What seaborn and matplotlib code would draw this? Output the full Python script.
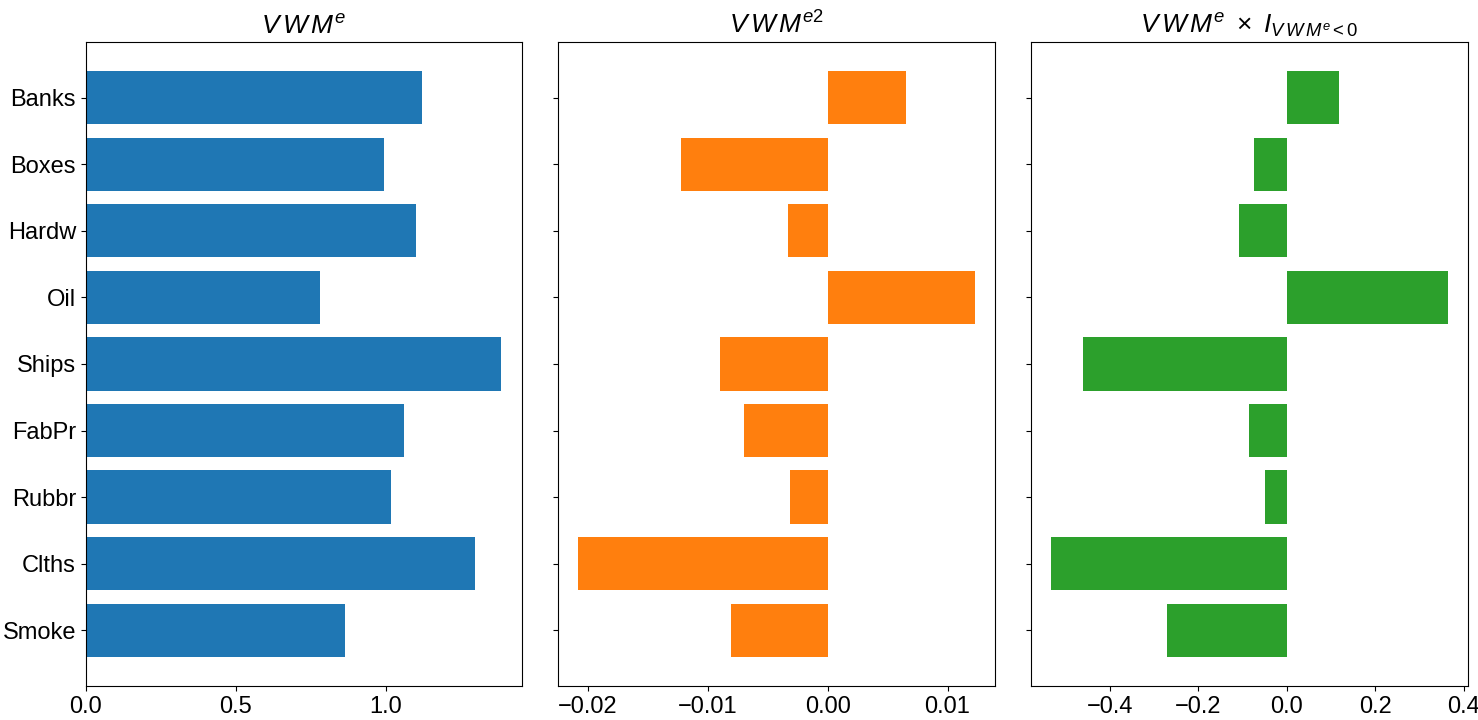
import matplotlib
matplotlib.use("Agg")
import matplotlib.pyplot as plt
from matplotlib.ticker import MultipleLocator
import seaborn as sns
import pandas as pd

# -----------------------------
# data
# -----------------------------
industries = ["Banks", "Boxes", "Hardw", "Oil", "Ships", "FabPr", "Rubbr", "Clths", "Smoke"]
vwm_e = [1.120, 0.993, 1.100, 0.779, 1.385, 1.060, 1.017, 1.298, 0.863]
vwm_e2 = [0.0065, -0.0122, -0.0033, 0.0123, -0.0090, -0.0070, -0.0031, -0.0208, -0.0081]
vwm_e_neg = [0.117, -0.074, -0.108, 0.364, -0.461, -0.086, -0.049, -0.533, -0.270]

titles = [
    r"$V\,W\,M^e$",
    r"$V\,W\,M^{e2}$",
    r"$V\,W\,M^e\ \times\ I_{V\,W\,M^e<0}$",
]
colors = ["#1f77b4", "#ff7f0e", "#2ca02c"]

plt.rcParams["font.family"] = ["Liberation Sans", "DejaVu Sans"]
plt.rcParams["mathtext.fontset"] = "custom"
plt.rcParams["mathtext.rm"] = "Liberation Sans"
plt.rcParams["mathtext.it"] = "Liberation Sans:italic"
plt.rcParams["mathtext.bf"] = "Liberation Sans:bold"

fig, axes = plt.subplots(1, 3, figsize=(14.78, 7.2), dpi=100, sharey=True)
fig.subplots_adjust(left=0.058, right=0.993, bottom=0.047, top=0.942, wspace=0.083)

series = [vwm_e, vwm_e2, vwm_e_neg]
n = len(industries)

for ax, vals, title, col in zip(axes, series, titles, colors):
    df = pd.DataFrame({"industry": industries, "value": vals})
    sns.barplot(
        data=df,
        x="value",
        y="industry",
        orient="h",
        color=col,
        saturation=1,
        width=0.8,
        errorbar=None,
        ax=ax,
    )
    ax.set_title(title, fontsize=19)
    ax.set_xlabel("")
    ax.set_ylabel("")
    ax.tick_params(axis="both", labelsize=17)
    # mimic matplotlib's default 5% margin around the bars
    ax.margins(x=0.05)
    ax.set_ylim(n - 1 + 0.4 + 0.44, -0.4 - 0.44)
    for s in ax.spines.values():
        s.set_visible(True)
        s.set_color("black")

axes[0].set_xlim(0, max(vwm_e) * 1.05)
axes[0].xaxis.set_major_locator(MultipleLocator(0.5))
axes[1].xaxis.set_major_locator(MultipleLocator(0.01))
axes[2].xaxis.set_major_locator(MultipleLocator(0.2))
for ax in axes[1:]:
    ax.tick_params(axis="y", labelleft=False)

plt.savefig("out.png", dpi=100, facecolor="white")
